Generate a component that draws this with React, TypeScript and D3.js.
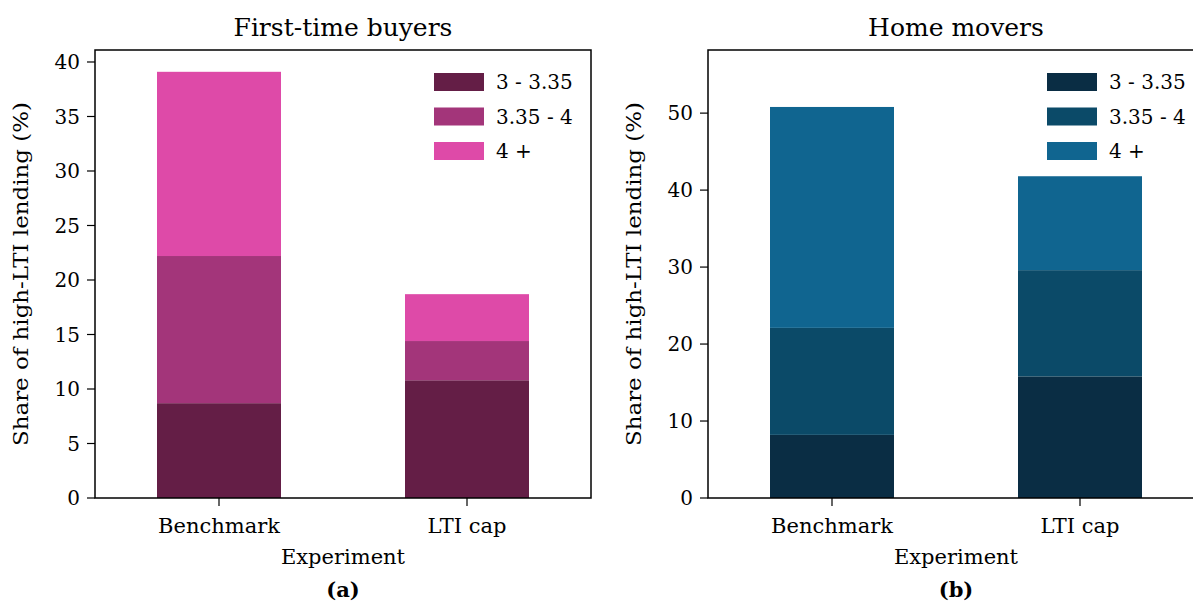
import React from "react";
import * as d3 from "d3";

const categories = ["Benchmark", "LTI cap"];
const bands = ["3 - 3.35", "3.35 - 4", "4 +"];

const ftbLow = [8.7, 10.8];
const ftbMid = [13.5, 3.6];
const ftbHigh = [16.9, 4.3];

const hmLow = [8.2, 15.8];
const hmMid = [13.9, 13.8];
const hmHigh = [28.7, 12.2];

const ftbTicks = [0, 5, 10, 15, 20, 25, 30, 35, 40];
const hmTicks = [0, 10, 20, 30, 40, 50];

const ftbColors = ["#641E46", "#A3357A", "#DE4AA8"];
const hmColors = ["#0A2D44", "#0B4A68", "#106590"];

const FONT = "'DejaVu Serif', serif";

type PanelProps = {
  x0: number;
  title: string;
  tag: string;
  series: number[][];
  colors: string[];
  ticks: number[];
  yMax: number;
};

function Panel({ x0, title, tag, series, colors, ticks, yMax }: PanelProps) {
  const left = x0;
  const right = x0 + 496;
  const top = 50;
  const bottom = 498;
  const x = d3.scaleLinear().domain([-0.5, 1.5]).range([left, right]);
  const y = d3.scaleLinear().domain([0, yMax]).range([bottom, top]);
  const keys = bands.map((_, i) => String(i));
  const rows = categories.map((c, ci) => {
    const r: Record<string, number> = {};
    series.forEach((s, si) => (r[String(si)] = s[ci]));
    return r;
  });
  const stacked = d3.stack<Record<string, number>>().keys(keys)(rows);
  const bw = x(0.25) - x(0);
  const cx = (left + right) / 2;
  return (
    <g>
      {stacked.map((layer, li) =>
        layer.map((d, ci) => (
          <rect
            key={`${li}-${ci}`}
            x={x(ci) - bw}
            width={bw * 2}
            y={y(d[1])}
            height={y(d[0]) - y(d[1])}
            fill={colors[li]}
          />
        ))
      )}
      <rect x={left} y={top} width={right - left} height={bottom - top} fill="none" stroke="#000" strokeWidth={1.5} />
      {ticks.map((t) => (
        <g key={t}>
          <line x1={left - 8} x2={left} y1={y(t)} y2={y(t)} stroke="#000" strokeWidth={1.2} />
          <text x={left - 15} y={y(t)} dy="0.36em" textAnchor="end" fontSize={20} fontFamily={FONT}>
            {t}
          </text>
        </g>
      ))}
      {categories.map((c, i) => (
        <g key={c}>
          <line x1={x(i)} x2={x(i)} y1={bottom} y2={bottom + 8} stroke="#000" strokeWidth={1.2} />
          <text x={x(i)} y={533} textAnchor="middle" fontSize={21} fontFamily={FONT}>
            {c}
          </text>
        </g>
      ))}
      <text x={cx} y={564} textAnchor="middle" fontSize={21} fontFamily={FONT}>
        Experiment
      </text>
      <text x={cx} y={597} textAnchor="middle" fontSize={21} fontWeight="bold" fontFamily={FONT}>
        {tag}
      </text>
      <text x={cx} y={36} textAnchor="middle" fontSize={25} fontFamily={FONT}>
        {title}
      </text>
      <text
        transform={`translate(${left - 67},${(top + bottom) / 2}) rotate(-90)`}
        textAnchor="middle"
        fontSize={21}
        fontFamily={FONT}
        textLength={344}
        lengthAdjust="spacingAndGlyphs"
      >
        Share of high-LTI lending (%)
      </text>
      {bands.map((b, i) => (
        <g key={b}>
          <rect x={right - 157} y={73 + i * 34.5} width={50} height={18} fill={colors[i]} />
          <text x={right - 95} y={82 + i * 34.5} dy="0.36em" fontSize={20} fontFamily={FONT}>
            {b}
          </text>
        </g>
      ))}
    </g>
  );
}

export default function App() {
  return (
    <svg width={1193} height={604} style={{ position: "absolute", left: 0, top: 0, background: "#fff" }}>
      <Panel x0={95} title="First-time buyers" tag="(a)" series={[ftbLow, ftbMid, ftbHigh]} colors={ftbColors} ticks={ftbTicks} yMax={41.1} />
      <Panel x0={708} title="Home movers" tag="(b)" series={[hmLow, hmMid, hmHigh]} colors={hmColors} ticks={hmTicks} yMax={58.2} />
    </svg>
  );
}
